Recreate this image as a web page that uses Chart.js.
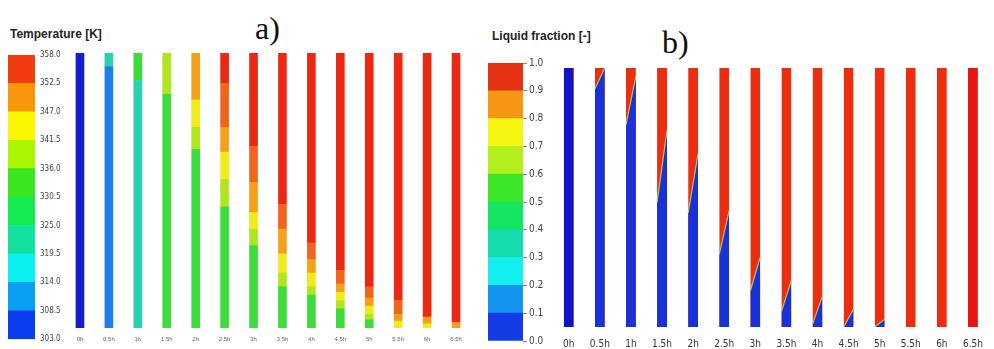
<!DOCTYPE html>
<html>
<head>
<meta charset="utf-8">
<script src="https://cdn.jsdelivr.net/npm/chart.js@4.4.1/dist/chart.umd.min.js"></script>
<style>
body { margin:0; width:994px; height:349px; background:#fff; position:relative; overflow:hidden; font-family:"Liberation Sans", Arial, sans-serif; }
.box { position:absolute; }
.title { position:absolute; font-weight:bold; font-size:12px; color:#222; white-space:nowrap; }
.tag { position:absolute; font-family:"Liberation Serif", serif; font-size:32px; color:#111; line-height:1; }
</style>
</head>
<body>
<div class="title" style="left:10px;top:27px;">Temperature [K]</div>
<div class="tag" style="left:255px;top:12px;">a)</div>
<div class="title" style="left:492px;top:29px;">Liquid fraction [-]</div>
<div class="tag" style="left:662px;top:26px;">b)</div>

<div class="box" style="left:8px;top:45px;width:59px;height:304px;"><canvas id="cbA"></canvas></div>
<div class="box" style="left:60px;top:45px;width:425px;height:304px;"><canvas id="colA"></canvas></div>
<div class="box" style="left:488px;top:53px;width:67px;height:296px;"><canvas id="cbB"></canvas></div>
<div class="box" style="left:548px;top:58px;width:446px;height:291px;"><canvas id="colB"></canvas></div>

<script>
// time of each snapshot
const timeLabels = ['0h','0.5h','1h','1.5h','2h','2.5h','3h','3.5h','4h','4.5h','5h','5.5h','6h','6.5h'];

// colour bar levels
const tempTicks = [303.0, 308.5, 314.0, 319.5, 325.0, 330.5, 336.0, 341.5, 347.0, 352.5, 358.0];
const liquidTicks = [0.0, 0.1, 0.2, 0.3, 0.4, 0.5, 0.6, 0.7, 0.8, 0.9, 1.0];

// temperature bands per column, bottom to top: [from, to, colour index] (height 0..1)
const tempProfiles = [
  [[0,1,0]],
  [[0,0.95,1],[0.95,1,2]],
  [[0,0.9,2],[0.9,1,3]],
  [[0,0.85,3],[0.85,1,4]],
  [[0,0.65,3],[0.65,0.73,4],[0.73,0.83,5],[0.83,1,6]],
  [[0,0.44,3],[0.44,0.54,4],[0.54,0.64,5],[0.64,0.73,6],[0.73,0.89,7],[0.89,1,8]],
  [[0,0.30,3],[0.30,0.36,4],[0.36,0.42,5],[0.42,0.53,6],[0.53,0.66,7],[0.66,1,8]],
  [[0,0.15,3],[0.15,0.2,4],[0.2,0.27,5],[0.27,0.36,6],[0.36,0.45,7],[0.45,1,8]],
  [[0,0.12,3],[0.12,0.15,4],[0.15,0.2,5],[0.2,0.25,6],[0.25,0.31,7],[0.31,1,8]],
  [[0,0.07,3],[0.07,0.1,4],[0.1,0.13,5],[0.13,0.16,6],[0.16,0.21,7],[0.21,1,8]],
  [[0,0.03,3],[0.03,0.05,4],[0.05,0.08,5],[0.08,0.11,6],[0.11,0.15,7],[0.15,1,8]],
  [[0,0.025,5],[0.025,0.05,6],[0.05,0.1,7],[0.1,1,8]],
  [[0,0.015,5],[0.015,0.04,6],[0.04,1,8]],
  [[0,0.02,6],[0.02,1,8]]
];

// solid (blue) front height at left and right wall of each column
const solidLeft  = [1, 0.92, 0.78, 0.48, 0.44, 0.28, 0.14, 0.06, 0.01, 0, 0, 0, 0, 0];
const solidRight = [1, 1.0, 0.97, 0.76, 0.67, 0.45, 0.27, 0.18, 0.12, 0.07, 0.03, 0, 0, 0];

// styles
const barColorsA = ['rgb(10,60,240)','rgb(10,160,240)','rgb(10,240,240)','rgb(20,225,160)','rgb(20,235,80)',
                    'rgb(60,230,30)','rgb(170,245,0)','rgb(250,248,0)','rgb(250,150,10)','rgb(240,60,15)'];
const barColorsB = ['rgb(20,60,230)','rgb(20,150,240)','rgb(20,240,240)','rgb(20,220,170)','rgb(20,230,100)',
                    'rgb(60,230,40)','rgb(180,240,30)','rgb(245,245,20)','rgb(245,150,20)','rgb(230,50,20)'];
const colColors = ['rgb(20,30,205)','rgb(30,125,230)','rgb(40,210,175)','rgb(60,220,60)','rgb(175,230,30)',
                   'rgb(240,235,25)','rgb(245,160,25)','rgb(240,100,30)','rgb(235,40,20)'];
const narrow = '"Liberation Sans Narrow", "DejaVu Sans Condensed", sans-serif';

Chart.defaults.animation = false;
Chart.defaults.plugins.legend.display = false;
Chart.defaults.plugins.tooltip.enabled = false;
Chart.defaults.responsive = true;
Chart.defaults.maintainAspectRatio = false;

function colorBar(id, ticks, colors, pad, fontSize, showTicks) {
  const datasets = colors.map((c, k) => ({
    data: [[ticks[k], ticks[k + 1]]],
    backgroundColor: c,
    barPercentage: 1,
    categoryPercentage: 1,
    grouped: false
  }));
  return new Chart(document.getElementById(id), {
    type: 'bar',
    data: { labels: [''], datasets },
    options: {
      layout: { padding: pad },
      scales: {
        x: { display: false },
        y: {
          position: 'right',
          min: ticks[0], max: ticks[ticks.length - 1],
          afterBuildTicks: s => { s.ticks = ticks.map(v => ({ value: v })); },
          afterFit: s => { s.width = 32; },
          border: { display: false },
          grid: { display: showTicks, drawOnChartArea: false, drawTicks: showTicks, tickLength: 4, color: '#888' },
          ticks: { padding: showTicks ? 2 : 5, color: '#444', font: { family: narrow, size: fontSize },
                   callback: v => v.toFixed(1) }
        }
      }
    }
  });
}

colorBar('cbA', tempTicks, barColorsA, { top: 10, bottom: 6 }, 8, false);
colorBar('cbB', liquidTicks, barColorsB, { top: 10, bottom: 4 }, 10, true);

// panel a: temperature columns as floating bar segments
const nSeg = Math.max(...tempProfiles.map(p => p.length));
const segSets = [];
for (let k = 0; k < nSeg; k++) {
  segSets.push({
    data: tempProfiles.map(p => p[k] ? [p[k][0], p[k][1]] : null),
    backgroundColor: tempProfiles.map(p => p[k] ? colColors[p[k][2]] : 'rgba(0,0,0,0)'),
    barThickness: 8,
    grouped: false
  });
}
new Chart(document.getElementById('colA'), {
  type: 'bar',
  data: { labels: timeLabels, datasets: segSets },
  options: {
    layout: { padding: { left: 5.5, right: 14.5, top: 8, bottom: 0 } },
    scales: {
      x: {
        grid: { display: false, drawTicks: false }, border: { display: false },
        afterFit: s => { s.height = 21; },
        ticks: { padding: 8, color: '#666', font: { size: 6 }, autoSkip: false, maxRotation: 0 }
      },
      y: { display: false, min: 0, max: 1 }
    }
  }
});

// panel b: liquid columns (red) with the solid front (blue) drawn as filled lines
// (the first dataset is painted last, so blue goes first)
const half = 0.16;
const liqSets = [];
timeLabels.forEach((t, i) => {
  if (solidLeft[i] <= 0 && solidRight[i] <= 0) return;
  liqSets.push({
    data: [{x: i - half, y: 0}, {x: i - half, y: solidLeft[i]}, {x: i + half, y: solidRight[i]}, {x: i + half, y: 0}],
    showLine: true, pointRadius: 0, borderWidth: 1.2, fill: 'origin',
    backgroundColor: i === 0 ? 'rgb(15,20,200)' : 'rgb(25,50,215)',
    borderColor: 'rgba(0,0,0,0)',
    segment: { borderColor: c => (c.p0DataIndex === 1 && i > 0) ? 'rgba(190,215,80,0.9)' : 'rgba(0,0,0,0)' }
  });
});
timeLabels.forEach((t, i) => {
  liqSets.push({
    data: [{x: i - half, y: 0}, {x: i - half, y: 1}, {x: i + half, y: 1}, {x: i + half, y: 0}],
    showLine: true, pointRadius: 0, borderWidth: 0, fill: 'origin',
    backgroundColor: i === timeLabels.length - 1 ? 'rgb(232,22,18)' : 'rgb(236,45,15)'
  });
});
new Chart(document.getElementById('colB'), {
  type: 'scatter',
  data: { datasets: liqSets },
  options: {
    layout: { padding: { left: 5.2, right: 1.5, top: 10, bottom: 0 } },
    scales: {
      x: {
        type: 'linear', min: -0.5, max: 13.4,
        grid: { display: false, drawTicks: false }, border: { display: false },
        afterBuildTicks: s => { s.ticks = timeLabels.map((t, i) => ({ value: i })); },
        afterFit: s => { s.height = 22; },
        ticks: { padding: 11, color: '#333', font: { family: narrow, size: 10 }, autoSkip: false, maxRotation: 0,
                 callback: v => timeLabels[v] }
      },
      y: { display: false, min: 0, max: 1 }
    }
  }
});
</script>
</body>
</html>
